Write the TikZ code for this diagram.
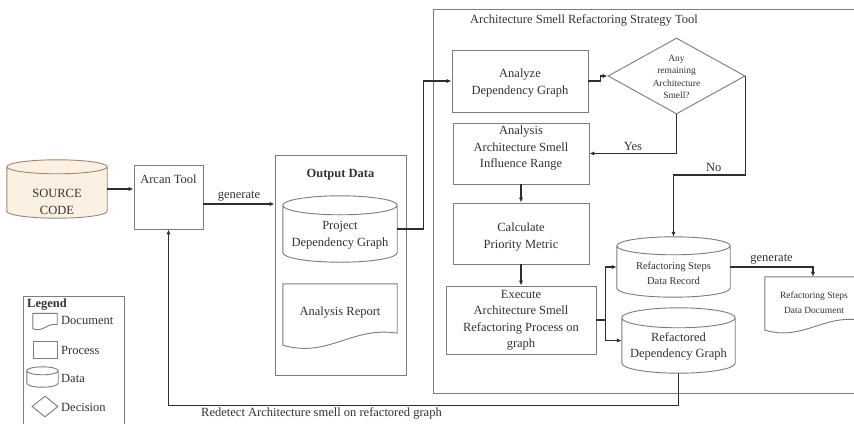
\documentclass[tikz,border=0pt]{standalone}
\usepackage{fontspec}
\setmainfont{Liberation Serif}
\usetikzlibrary{arrows.meta,calc,shapes.geometric}

\definecolor{edgegray}{HTML}{7C7C7C}
\definecolor{wiregray}{HTML}{2E2E2E}
\definecolor{inkgray}{HTML}{333333}
\definecolor{srcfill}{HTML}{FCF0E2}
\definecolor{srcedge}{HTML}{9C8872}

% Cylinder (data store) outline around the bounds of a node: #1 node, #2 cap radius, #3 style
\newcommand\tankoutline[3]{%
  \path[#3] let \p1=(#1.north west), \p2=(#1.south east), \n1={0.5*(\x2-\x1)} in
    (\x1,\y1-#2) -- (\x1,\y2+#2)
    arc[start angle=180, end angle=360, x radius=\n1, y radius=#2]
    -- (\x2,\y1-#2)
    arc[start angle=0, end angle=180, x radius=\n1, y radius=#2] -- cycle
    (\x1,\y1-#2) arc[start angle=180, end angle=360, x radius=\n1, y radius=#2];
}
% Document outline with a wavy lower edge: #1 node, #2 wave height, #3 style
\newcommand\sheetoutline[3]{%
  \path[#3] let \p1=(#1.north west), \p2=(#1.south east), \n1={\x2-\x1} in
    (\x1,\y2) -- (\x1,\y1) -- (\x2,\y1) -- (\x2,\y2+#2)
    .. controls (\x1+0.6*\n1,\y2+1.6*#2) and (\x1+0.4*\n1,\y2-1.1*#2) .. (\x1,\y2) -- cycle;
}

\begin{document}
\begin{tikzpicture}[x=1pt,y=-1pt,
  every node/.style={text=inkgray},
  txt/.style={align=center, inner sep=0pt, font=\fontsize{12.5}{16.5}\selectfont},
  boldtxt/.style={txt, font=\fontsize{12.5}{16.5}\selectfont\bfseries},
  smalltxt/.style={align=center, inner sep=0pt, font=\fontsize{10.5}{15}\selectfont},
  docsmall/.style={align=center, inner sep=0pt, font=\fontsize{9.5}{15}\selectfont},
  tinytxt/.style={align=center, inner sep=0pt, font=\fontsize{9.5}{12.5}\selectfont},
  procbox/.style={draw=edgegray, line width=0.9pt, rectangle, inner sep=0pt},
  bounds/.style={rectangle, inner sep=0pt},
  shapeline/.style={draw=edgegray, line width=0.9pt, fill=white},
  choice/.style={diamond, draw=edgegray, line width=0.9pt, inner sep=0pt},
  link/.style={draw=wiregray, line width=1.1pt, -{Latex[length=5pt,width=4.2pt]}},
  tag/.style={txt, inner sep=2.5pt},
]
\useasboundingbox (0,0) rectangle (854,423);
\fill[white] (0,0) rectangle (854,423);

% ---------- source and Arcan ----------
\node[bounds, minimum width=100pt, minimum height=58pt] (src) at (57,189) {};
\tankoutline{src}{7pt}{draw=srcedge, fill=srcfill, line width=0.9pt}
\node[txt] (src-t) at (57,202) {SOURCE\\CODE};

\node[procbox, minimum width=69pt, minimum height=64pt] (arcan) at (168.5,197) {};
\node[txt] (arcan-t) at (168.5,179) {Arcan Tool};

% ---------- output data ----------
\node[procbox, minimum width=131pt, minimum height=220pt] (outbox) at (340.5,265) {};
\node[boldtxt] (outbox-t) at (340.5,175) {Output Data};

\node[bounds, minimum width=114pt, minimum height=66pt] (pdg) at (340,229) {};
\tankoutline{pdg}{9.5pt}{shapeline}
\node[txt] (pdg-t) at (340,235) {Project\\Dependency Graph};

\node[bounds, minimum width=114pt, minimum height=61pt] (report) at (340,314.5) {};
\sheetoutline{report}{12pt}{shapeline}
\node[txt] (report-t) at (340,313) {Analysis Report};

% ---------- refactoring strategy tool ----------
\node[procbox, minimum width=427pt, minimum height=384pt] (strat) at (646.5,201) {};
\node[txt, anchor=west] (strat-t) at (470,20) {Architecture Smell Refactoring Strategy Tool};

\node[procbox, minimum width=136pt, minimum height=62pt] (analyze) at (520,81) {};
\node[txt] (analyze-t) at (520,83) {Analyze\\Dependency Graph};

\node[choice, minimum width=137pt, minimum height=76pt] (dec) at (676.5,76) {};
\node[tinytxt] (dec-t) at (676.5,77) {Any\\remaining\\Architecture\\Smell?};

\node[procbox, minimum width=136pt, minimum height=61pt] (analysis) at (521,153.5) {};
\node[txt] (analysis-t) at (521,148.5) {Analysis\\Architecture Smell\\Influence Range};

\node[procbox, minimum width=136pt, minimum height=61pt] (calc) at (521,233.5) {};
\node[txt] (calc-t) at (521,237) {Calculate\\Priority Metric};

\node[procbox, minimum width=150pt, minimum height=68pt] (exec) at (521,320) {};
\node[txt] (exec-t) at (521,320.5) {Execute\\Architecture Smell\\Refactoring Process on\\graph};

\node[bounds, minimum width=113pt, minimum height=60pt] (rsdr) at (673.5,267) {};
\tankoutline{rsdr}{9pt}{shapeline}
\node[smalltxt] (rsdr-t) at (673.5,273.5) {Refactoring Steps\\Data Record};

\node[bounds, minimum width=113pt, minimum height=65pt] (rdg) at (678.5,340.5) {};
\tankoutline{rdg}{10pt}{shapeline}
\node[txt] (rdg-t) at (678.5,346.5) {Refactored\\Dependency Graph};

\node[bounds, minimum width=96pt, minimum height=53pt] (rsdd) at (813,303.5) {};
\sheetoutline{rsdd}{10pt}{shapeline}
\node[docsmall] (rsdd-t) at (814,302.5) {Refactoring Steps\\Data Document};

% ---------- legend ----------
\node[procbox, minimum width=101pt, minimum height=140pt] (legend) at (73.5,366) {};
\node[boldtxt, anchor=west] (legend-t) at (27,305) {Legend};
\node[bounds, minimum width=24pt, minimum height=15pt] (lg-doc) at (45,321) {};
\sheetoutline{lg-doc}{4pt}{shapeline}
\node[txt, anchor=west] (lg-doc-t) at (61,320) {Document};
\node[procbox, minimum width=24pt, minimum height=17pt] (lg-proc) at (45,349.5) {};
\node[txt, anchor=west] (lg-proc-t) at (61,350) {Process};
\node[bounds, minimum width=31pt, minimum height=20pt] (lg-data) at (42.5,377) {};
\tankoutline{lg-data}{4pt}{shapeline}
\node[txt, anchor=west] (lg-data-t) at (61,378) {Data};
\node[choice, minimum width=26pt, minimum height=21pt] (lg-dec) at (45,406.5) {};
\node[txt, anchor=west] (lg-dec-t) at (61,407) {Decision};

% ---------- connectors ----------
\draw[link] (src.east) -- (src.east -| arcan.west);
\draw[link] ([yshift=-7pt]arcan.east) -- node[tag, above] {generate} ([yshift=-7pt]arcan.east -| outbox.west);
\draw[link] (pdg.east) -- ++(26,0) |- (analyze.west);
\draw[link] (analyze.east) -- ++(12,0) |- (dec.west);
\draw[link] (dec.south) |- node[tag, pos=0.75, above] {Yes} (analysis.east);
\draw[link] (dec.east) -- ++(0,99) -| node[tag, pos=0.22, above] {No} (rsdr.north);
\draw[link] (analysis.south) -- (calc.north);
\draw[link] (calc.south) -- (exec.north);
\draw[link] (exec.east) -- ++(9,0) |- (rsdr.west);
\draw[link] (exec.east) -- ++(9,0) |- (rdg.west);
\draw[link] (rsdr.east) -| node[tag, pos=0.25, above] {generate} (rsdd.north);
\draw[link] (rdg.south) -- ++(0,32) -| node[tag, pos=0.35, below, inner sep=1.5pt] {Redetect Architecture smell on refactored graph} (arcan.south);
\end{tikzpicture}
\end{document}
